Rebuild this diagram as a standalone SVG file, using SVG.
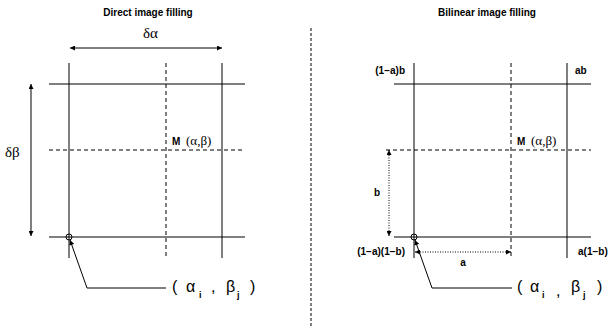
<svg xmlns="http://www.w3.org/2000/svg" width="615" height="327" viewBox="0 0 615 327">
<style>
.ln{stroke:#000;stroke-width:1;fill:none}
.ds{stroke:#000;stroke-width:1;fill:none;stroke-dasharray:4,3}
.dt{stroke:#000;stroke-width:1;fill:none;stroke-dasharray:1,1.5}
.sep{stroke:#000;stroke-width:1;fill:none;stroke-dasharray:3,2}
.ttl{font-family:"Liberation Sans",Arial,sans-serif;font-weight:bold;font-size:10px;text-anchor:middle}
.lb{font-family:"Liberation Sans",Arial,sans-serif;font-weight:bold;font-size:10px}
.gr{font-family:"Liberation Serif","Times New Roman",serif;font-size:13px}
.gr2{font-family:"Liberation Serif","Times New Roman",serif;font-size:15px}
.co{font-family:"Liberation Sans",Arial,sans-serif;font-size:16px}
.sub{font-family:"Liberation Sans",Arial,sans-serif;font-size:9px;font-weight:bold}
</style>
<defs>
<marker id="ah" viewBox="0 0 10 10" refX="10" refY="5" markerWidth="8" markerHeight="5" orient="auto-start-reverse" markerUnits="userSpaceOnUse">
<path d="M0,0 L10,5 L0,10 z" fill="#000"/>
</marker>
</defs>
<g id="titles">
<text class="ttl" x="148" y="16">Direct image filling</text>
<text class="ttl" x="487" y="16">Bilinear image filling</text>
</g>
<line class="sep" x1="311" y1="28" x2="311" y2="327"/>
<g id="left-grid">
<line class="ln" x1="69" y1="63" x2="69" y2="258"/>
<line class="ln" x1="222" y1="63" x2="222" y2="258"/>
<line class="ds" x1="166" y1="63" x2="166" y2="258"/>
<line class="ln" x1="49" y1="84" x2="245" y2="84"/>
<line class="ds" x1="49" y1="150" x2="245" y2="150"/>
<line class="ln" x1="49" y1="237" x2="245" y2="237"/>
<circle class="ln" cx="69" cy="237" r="3"/>
</g>
<g id="left-labels">
<text class="gr2" x="143" y="38">δα</text>
<text class="gr2" x="5" y="157">δβ</text>
<text class="lb" x="172" y="145">M</text>
<text class="gr" x="186" y="145">(α,β)</text>
<text class="co" x="172" y="292">(</text>
<text class="co" x="186" y="292">α</text>
<text class="sub" x="199" y="298">i</text>
<text class="co" x="211" y="292">,</text>
<text class="co" x="226" y="292">β</text>
<text class="sub" x="237" y="298">j</text>
<text class="co" x="250" y="292">)</text>
</g>
<g id="right-grid">
<line class="ln" x1="414" y1="63" x2="414" y2="258"/>
<line class="ln" x1="567" y1="63" x2="567" y2="258"/>
<line class="ds" x1="511" y1="63" x2="511" y2="258"/>
<line class="ln" x1="394" y1="84" x2="591" y2="84"/>
<line class="ds" x1="386" y1="150" x2="591" y2="150"/>
<line class="ln" x1="394" y1="237" x2="591" y2="237"/>
<circle class="ln" cx="414" cy="237" r="3"/>
</g>
<g id="right-labels">
<text class="lb" x="405" y="74" text-anchor="end">(1−a)b</text>
<text class="lb" x="575" y="74">ab</text>
<text class="lb" x="517" y="145">M</text>
<text class="gr" x="531" y="145">(α,β)</text>
<text class="lb" x="374" y="196">b</text>
<text class="lb" x="405" y="255" text-anchor="end">(1−a)(1−b)</text>
<text class="lb" x="578" y="255">a(1−b)</text>
<text class="lb" x="463" y="266" text-anchor="middle">a</text>
<text class="co" x="517" y="292">(</text>
<text class="co" x="530" y="292">α</text>
<text class="sub" x="542" y="298">i</text>
<text class="co" x="556" y="296">,</text>
<text class="co" x="571" y="292">β</text>
<text class="sub" x="583" y="298">j</text>
<text class="co" x="597" y="292">)</text>
</g>
<g id="connectors">
<line class="ln" x1="70" y1="48" x2="222" y2="48" marker-start="url(#ah)" marker-end="url(#ah)"/>
<line class="ln" x1="31" y1="84" x2="31" y2="236" marker-start="url(#ah)" marker-end="url(#ah)"/>
<polyline class="ln" points="166,288 87,288 70,240" marker-end="url(#ah)"/>
<polyline class="ln" points="512,288 432,288 415,240" marker-end="url(#ah)"/>
<line class="dt" x1="389" y1="150" x2="389" y2="236" marker-start="url(#ah)" marker-end="url(#ah)"/>
<line class="dt" x1="415" y1="252" x2="511" y2="252" marker-start="url(#ah)" marker-end="url(#ah)"/>
</g>
</svg>
